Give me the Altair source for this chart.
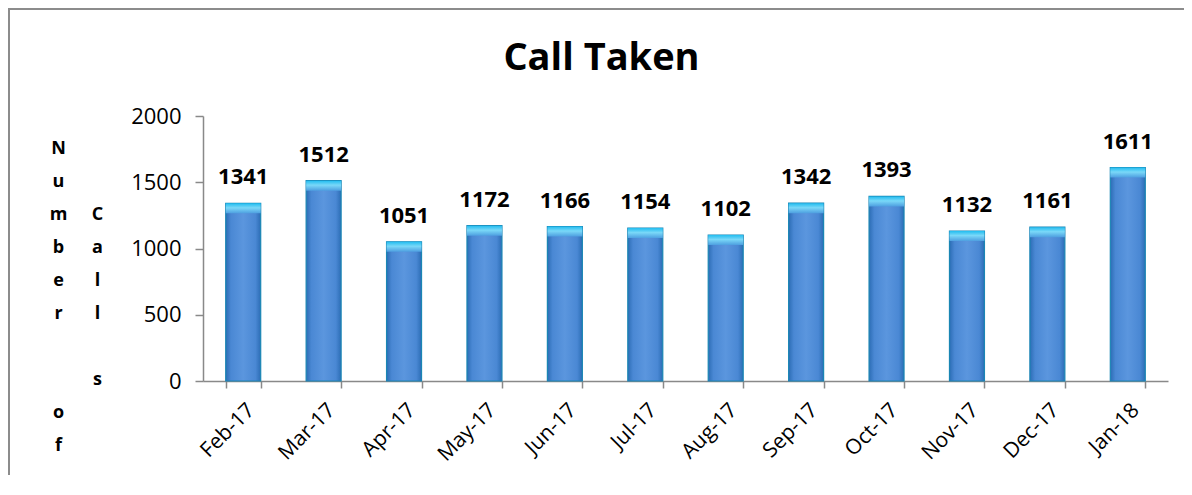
import altair as alt
import pandas as pd

months = ["Feb-17", "Mar-17", "Apr-17", "May-17", "Jun-17", "Jul-17",
          "Aug-17", "Sep-17", "Oct-17", "Nov-17", "Dec-17", "Jan-18"]
calls = [1341, 1512, 1051, 1172, 1166, 1154, 1102, 1342, 1393, 1132, 1161, 1611]
y_ticks = [0, 500, 1000, 1500, 2000]
title_number = ["N", "u", "m", "b", "e", "r"]
title_of = ["o", "f"]
title_call = ["C", "a", "l", "l"]
title_s = ["s"]

df = pd.DataFrame({"month": months, "calls": calls})

FONT = "Open Sans"
GRAY = "#898989"
W, H = 965, 265

x_enc = alt.X("month:N", sort=months,
              scale=alt.Scale(paddingInner=0.565, paddingOuter=0.2825),
              axis=alt.Axis(title=None, labelAngle=-45, labelAlign="right", labelBaseline="top",
                            labelFont=FONT, labelFontSize=21, labelColor="black",
                            labelPadding=11, tickBand="extent", tickSize=7, tickWidth=1.5,
                            tickColor=GRAY, domainColor=GRAY, domainWidth=1.5))

y_scale = alt.Scale(domain=[0, 2000], nice=False)


def title_axis(lines, tx, ty):
    return alt.Axis(orient="left", domain=False, ticks=False, labels=False, grid=False,
                    title=lines, titleAngle=0, titleAlign="center",
                    titleBaseline="middle", titleX=tx, titleY=ty,
                    titleLineHeight=33, titleFont=FONT, titleFontSize=18,
                    titleFontWeight="bold", titleColor="black")


bars = alt.Chart(df).mark_bar(
    color=alt.Gradient(gradient="linear", x1=0, y1=0, x2=1, y2=0,
                       stops=[alt.GradientStop(offset=0, color="#2c6db5"),
                              alt.GradientStop(offset=0.15, color="#4a88d4"),
                              alt.GradientStop(offset=0.5, color="#5b96de"),
                              alt.GradientStop(offset=0.85, color="#4a88d4"),
                              alt.GradientStop(offset=1, color="#2c6db5")]),
    stroke="#1a86b4", strokeWidth=1.2
).encode(
    x=x_enc,
    y=alt.Y("calls:Q", scale=y_scale,
            axis=alt.Axis(values=y_ticks, format="d", grid=False, labelFont=FONT, labelFontSize=22,
                          labelColor="black", labelPadding=14, tickSize=8, tickWidth=1.5,
                          tickColor=GRAY, domainColor=GRAY, domainWidth=1.5,
                          title=title_number, titleAngle=0, titleAlign="center",
                          titleBaseline="middle", titleX=-145, titleY=32,
                          titleLineHeight=33, titleFont=FONT, titleFontSize=18,
                          titleFontWeight="bold", titleColor="black"))
)

caps = alt.Chart(df).mark_tick(
    thickness=10, size=35, yOffset=5,
    color=alt.Gradient(gradient="linear", x1=0, y1=0, x2=0, y2=1,
                       stops=[alt.GradientStop(offset=0, color="#22bdf0"),
                              alt.GradientStop(offset=0.45, color="#7ad8f8"),
                              alt.GradientStop(offset=1, color="#4e9fe0")]),
    opacity=1
).encode(
    x=x_enc,
    y=alt.Y("calls:Q", scale=y_scale, axis=title_axis(title_of, -145, 296))
)

labels = alt.Chart(df).mark_text(
    font=FONT, fontSize=22, fontWeight="bold", color="black",
    baseline="alphabetic", dy=-19
).encode(
    x=x_enc,
    y=alt.Y("calls:Q", scale=y_scale, axis=title_axis(title_call, -106, 98)),
    text="calls:Q"
)

ghost = alt.Chart(df).mark_point(opacity=0).encode(
    x=x_enc,
    y=alt.Y("calls:Q", scale=y_scale, axis=title_axis(title_s, -106, 263))
)

frame_top = alt.Chart(df).mark_rule(color="#8c8c8c", strokeWidth=2).encode(
    x=alt.value(-195), x2=alt.value(W + 16), y=alt.value(-107)
)
frame_left = alt.Chart(df).mark_rule(color="#8c8c8c", strokeWidth=2).encode(
    x=alt.value(-194), y=alt.value(-108), y2=alt.value(H + 110)
)

chart = alt.layer(bars, caps, labels, ghost, frame_top, frame_left).resolve_axis(
    y="independent"
).properties(
    width=W, height=H,
    autosize=alt.AutoSizeParams(type="none"),
    padding={"left": 195, "top": 108, "right": 16, "bottom": 94},
    title=alt.TitleParams("Call Taken", font=FONT, fontSize=38, fontWeight="bold",
                          color="black", anchor="middle", dx=-84, dy=71, offset=0)
).configure_view(stroke=None)

chart.save("out.html", embed_options={"renderer": "svg", "actions": False})
